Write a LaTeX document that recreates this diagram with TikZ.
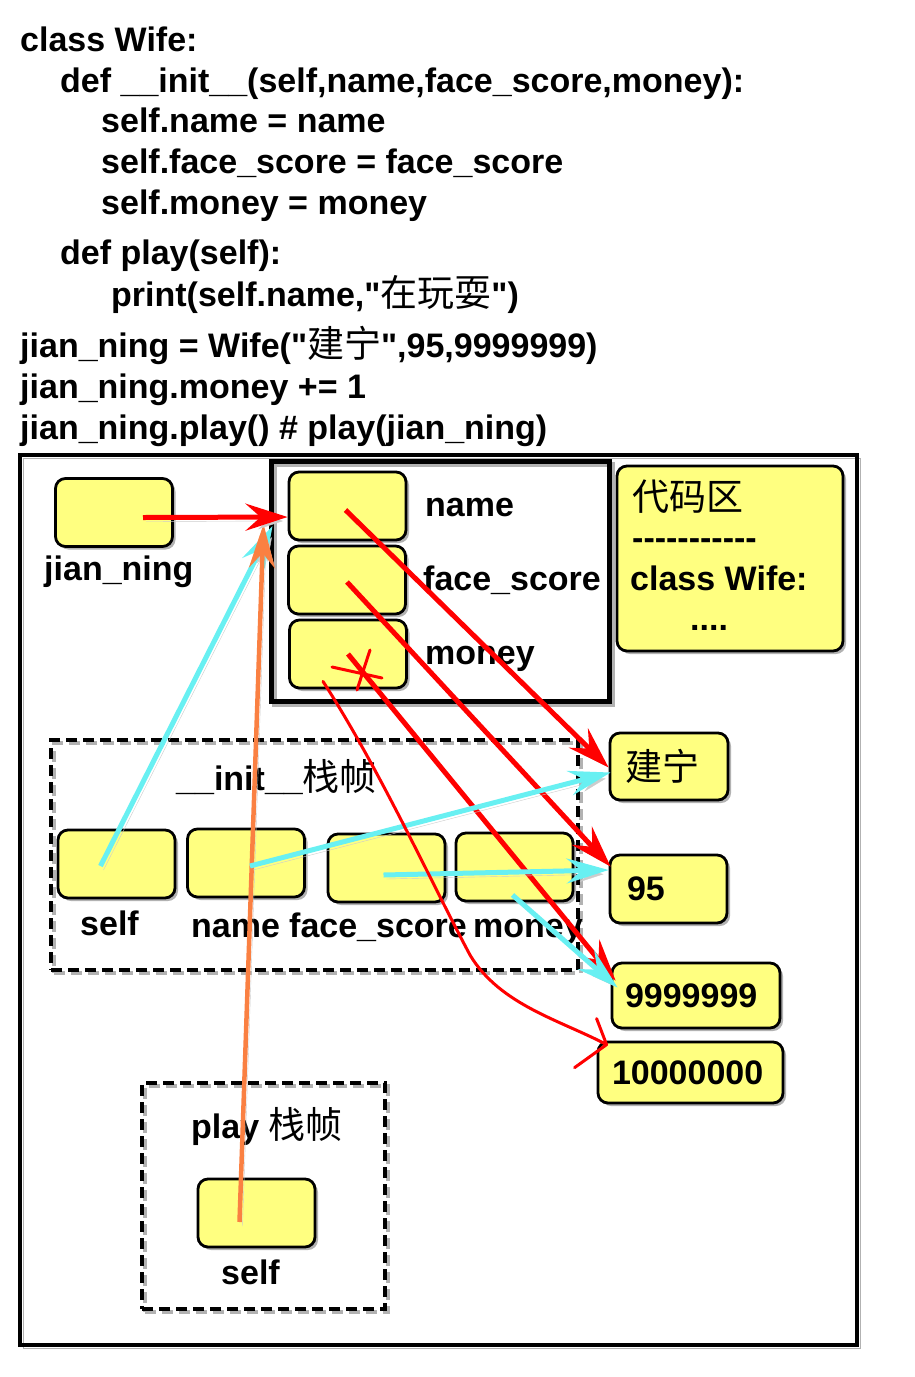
\documentclass[tikz,border=0pt]{standalone}
\usepackage{fontspec}
\setmainfont{Liberation Sans}
\newfontfamily\codefam{Liberation Sans}
\newfontfamily\cjk{Noto Sans CJK SC}
\usepackage{tikz}
\usetikzlibrary{arrows.meta, calc}

\definecolor{cellyellow}{RGB}{255,255,128}
\definecolor{refcyan}{RGB}{104,240,242}
\definecolor{reforange}{RGB}{250,128,66}

\newcommand{\zh}[1]{{\cjk\mdseries\fontsize{37}{41}\selectfont #1}}
\newcommand{\codefont}{\codefam\fontsize{34}{41}\selectfont\bfseries}

\tikzset{
  cell/.style={draw=black, line width=2.8pt, fill=cellyellow, rounded corners=10pt,
    minimum width=117pt, minimum height=68pt, inner sep=0pt,
    preaction={fill=black!30, transform canvas={shift={(3pt,-3pt)}}}},
  valcell/.style={cell, align=left, inner xsep=14pt, font=\codefont},
  lbl/.style={anchor=base west, inner sep=0pt, font=\codefont},
  shadowline/.style={preaction={draw=black!30, transform canvas={shift={(3pt,-3pt)}}}},
  objframe/.style={draw=black, line width=5pt, inner sep=0pt, shadowline},
  stackframe/.style={draw=black, line width=4pt, dash pattern=on 11pt off 6pt, inner sep=0pt, shadowline},
  refshadow/.style={preaction={draw=black!20, transform canvas={shift={(3pt,-4pt)}}}},
  refred/.style={draw=red, line width=5pt, refshadow, -{Stealth[length=42pt, width=27pt, inset=15pt]}},
  refcyan/.style={draw=refcyan, line width=5pt, refshadow, -{Stealth[length=42pt, width=25pt, inset=15pt]}},
  reforange/.style={draw=reforange, line width=4.5pt, refshadow, -{Stealth[length=44pt, width=26pt, inset=15pt]}},
  newref/.style={draw=red, line width=3pt, line cap=round, line join=round}
}

\begin{document}
\begin{tikzpicture}[x=1pt, y=-1pt]

  \useasboundingbox (0,0) rectangle (914,1377);

  % the code
  \node[lbl] (c1) at (20,51) {class Wife:};
  \node[lbl] (c2) at (60,92) {def \_\_init\_\_(self,name,face\_score,money):};
  \node[lbl] (c3) at (101,132) {self.name = name};
  \node[lbl] (c4) at (101,173) {self.face\_score = face\_score};
  \node[lbl] (c5) at (101,214) {self.money = money};
  \node[lbl] (c6) at (60,264) {def play(self):};
  \node[lbl] (c7) at (111,306) {print(self.name,"\zh{在玩耍}")};
  \node[lbl] (c8) at (20,357) {jian\_ning = Wife("\zh{建宁}",95,9999999)};
  \node[lbl] (c9) at (20,398) {jian\_ning.money += 1};
  \node[lbl] (c10) at (20,439) {jian\_ning.play() \# play(jian\_ning)};

  % frames
  \draw[objframe, line width=4.5pt] (20,455) rectangle (857,1345);
  \node[objframe, minimum width=338pt, minimum height=240pt] (obj) at (440,581) {};
  \node[cell, minimum width=226pt, minimum height=185pt] (codearea) at (730,558.5) {};
  \node[stackframe, minimum width=527pt, minimum height=230pt] (initframe) at (314.5,855) {};
  \node[stackframe, minimum width=243pt, minimum height=226pt] (playframe) at (263.5,1196) {};

  % cells
  \node[cell] (jn) at (114,512.5) {};
  \node[cell] (oname) at (347.5,506) {};
  \node[cell] (oface) at (347,580) {};
  \node[cell] (omoney) at (348,654) {};
  \node[cell] (iself) at (116.5,864) {};
  \node[cell] (iname) at (246,863) {};
  \node[cell] (iface) at (386.5,868) {};
  \node[cell] (imoney) at (514.5,867) {};
  \node[cell] (pself) at (256.5,1213) {};

  \node[valcell, minimum height=67pt, text width=88pt, inner xsep=15pt] (vname) at (669,766.5) {\zh{建宁}};
  \node[valcell, minimum height=68pt, text width=83pt] (v95) at (668.5,889) {95};
  \node[valcell, minimum height=65pt, text width=142pt, inner xsep=13pt] (vnine) at (696,995.5) {9999999};
  \node[valcell, minimum height=61pt, text width=157pt] (vten) at (690.5,1072.5) {10000000};

  % labels
  \node[lbl] (ljn) at (44,580) {jian\_ning};
  \node[lbl] (lname) at (425,516) {name};
  \node[lbl] (lface) at (423,590) {face\_score};
  \node[lbl] (lmoney) at (425,664) {money};
  \node[lbl] (lcode) at (632,510) {\zh{代码区}};
  \node[lbl] (ldash) at (632,549) {-----------};
  \node[lbl] (lclass) at (630,590) {class Wife:};
  \node[lbl] (ldots) at (690,630) {....};
  \node[lbl] (linit) at (176,790) {\_\_init\_\_\zh{栈帧}};
  \node[lbl] (liself) at (80,935) {self};
  \node[lbl] (liname) at (191,937) {name};
  \node[lbl] (liface) at (289,937) {face\_score};
  \node[lbl] (limoney) at (473,937) {money};
  \node[lbl] (lplay) at (191,1138) {play \zh{栈帧}};
  \node[lbl] (lpself) at (221,1284) {self};

  % references
  \draw[refcyan] ($(iself.center)+(-16,2)$) -- ($(obj.west)+(4,-55)$);
  \draw[reforange] ($(pself.center)+(-17,9)$) -- ($(obj.west)+(-5,-57)$);
  \draw[refred] ($(jn.center)+(29,5)$) -- ($(oname.west)+(0,11)$);

  \draw[refred] ($(oname.center)+(-2,4)$) -- ($(vname.west)+(0,1)$);
  \draw[refred] ($(oface.center)+(0,2)$) -- ($(v95.north west)+(2,13)$);
  \draw[refred] (omoney.center) -- ($(vnine.north west)+(5,19)$);

  \draw[refcyan] ($(iname.center)+(4,3)$) -- ($(vname.west)+(2,6)$);
  \draw[refcyan] ($(iface.center)+(-3,7)$) -- ($(v95.west)+(0,-19)$);
  \draw[refcyan] ($(imoney.center)+(-2,28)$) -- ($(vnine.west)+(7,-8)$);

  % money += 1
  \coordinate (hook) at ($(vten.north west)+(10,4)$);
  \draw[newref] ($(omoney.south)+(-25,-8)$) .. controls (380,770) and (430,880) .. (470,955)
    .. controls (500,1005) and (560,1020) .. (hook);
  \draw[newref] ($(hook)+(-10,-26)$) -- (hook) -- ($(hook)+(-32,23)$);
  \draw[newref] ($(omoney.center)+(-16,13)$) -- ($(omoney.center)+(34,24)$);
  \draw[newref] ($(omoney.center)+(22,-4)$) -- ($(omoney.center)+(9,36)$);

\end{tikzpicture}
\end{document}
